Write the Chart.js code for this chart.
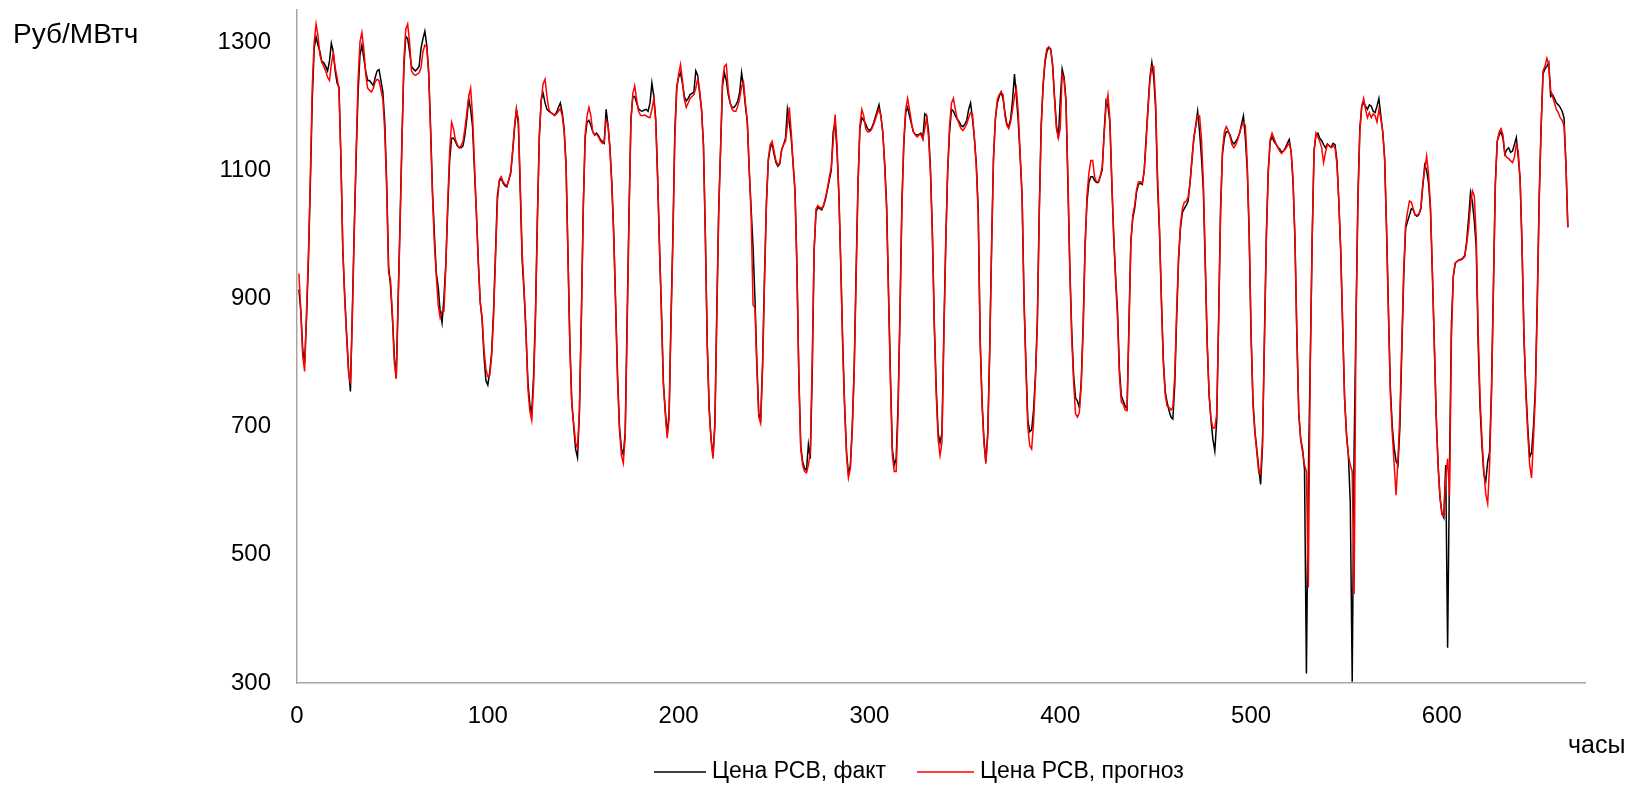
<!DOCTYPE html>
<html><head><meta charset="utf-8">
<script src="https://cdn.jsdelivr.net/npm/chart.js@4.4.1/dist/chart.umd.min.js"></script>
<style>html,body{margin:0;padding:0;background:#fff;} #wrap{width:1634px;height:786px;}</style>
</head><body><div id="wrap"><canvas id="c" width="1634" height="786"></canvas></div>
<script>
// Hourly market price, fact (black)
const FACT = [
914,880,820,800,870,960,1080,1210,1290,1308,1295,1285,1270,1268,1262,1255,1270,1298,1285,1255,1236,1230,1120,975,
905,845,790,755,880,1010,1120,1220,1280,1295,1275,1255,1240,1240,1236,1232,1245,1255,1257,1240,1222,1175,1080,950,
920,870,810,775,900,1020,1150,1260,1309,1305,1285,1262,1258,1255,1258,1262,1290,1305,1317,1295,1255,1168,1068,1000,
940,918,880,862,900,955,1040,1115,1150,1150,1145,1138,1135,1135,1138,1155,1180,1212,1195,1168,1100,1034,960,895,
867,810,772,765,785,815,880,968,1060,1082,1088,1080,1076,1074,1085,1095,1128,1165,1195,1172,1068,960,910,845,
770,735,720,780,880,1030,1155,1210,1220,1205,1195,1192,1190,1188,1186,1190,1198,1205,1190,1165,1110,970,830,740,
700,665,652,720,870,1040,1150,1175,1178,1170,1160,1155,1158,1154,1148,1145,1142,1195,1170,1135,1080,1001,890,780,
700,666,656,690,867,1034,1180,1215,1215,1205,1196,1193,1192,1194,1195,1192,1205,1236,1215,1180,1090,980,880,770,
725,688,720,870,1000,1160,1230,1245,1252,1235,1215,1208,1212,1218,1220,1222,1255,1248,1220,1195,1140,1000,830,730,
680,655,705,880,1040,1135,1232,1252,1240,1218,1205,1198,1198,1202,1208,1222,1252,1230,1200,1175,1100,1040,980,900,
800,720,712,800,934,1050,1115,1135,1141,1125,1112,1106,1110,1132,1140,1150,1195,1175,1150,1110,1068,950,780,670,
645,635,632,672,650,780,975,1035,1042,1040,1038,1045,1055,1070,1085,1100,1160,1175,1130,1060,950,830,733,660,
625,640,700,790,940,1080,1165,1182,1178,1172,1165,1162,1165,1172,1182,1192,1202,1185,1158,1110,1045,910,780,665,
640,650,733,880,1050,1140,1190,1198,1185,1172,1160,1156,1155,1156,1158,1150,1188,1185,1160,1100,1001,860,760,690,
675,690,850,990,1100,1160,1195,1192,1185,1180,1176,1170,1168,1172,1178,1195,1205,1180,1150,1110,1040,840,740,680,
645,690,820,980,1120,1180,1205,1215,1222,1212,1190,1172,1168,1180,1210,1250,1215,1175,1120,1060,900,800,710,692,
695,725,780,867,1040,1170,1230,1268,1285,1292,1289,1265,1215,1170,1150,1210,1258,1245,1210,1080,950,850,780,745,
740,730,770,860,985,1050,1081,1090,1090,1084,1081,1081,1090,1101,1160,1208,1200,1175,1080,1000,934,880,790,748,
740,732,728,860,990,1025,1040,1066,1078,1080,1078,1100,1150,1200,1245,1268,1245,1195,1075,1005,900,805,755,738,
725,715,712,765,870,960,1010,1034,1040,1045,1052,1080,1115,1150,1170,1192,1160,1120,1068,950,830,750,710,680,
662,710,870,1040,1125,1150,1160,1160,1155,1145,1141,1145,1150,1158,1172,1185,1150,1101,1000,840,740,693,665,635,
610,670,840,1000,1100,1145,1152,1145,1141,1136,1133,1128,1130,1135,1142,1148,1128,1081,990,840,720,680,665,633,
315,620,800,990,1130,1155,1158,1150,1146,1140,1135,1141,1138,1136,1142,1140,1115,1050,970,855,745,690,655,580,
302,666,870,1060,1165,1200,1205,1200,1195,1202,1200,1192,1190,1200,1212,1185,1160,1120,1010,880,760,700,666,646,
640,700,820,934,1010,1020,1030,1040,1038,1030,1028,1031,1040,1075,1108,1100,1080,1040,940,834,720,640,590,565,
558,640,355,640,860,935,955,958,960,961,963,967,990,1025,1065,1050,1020,980,830,730,670,625,615,645,
660,760,920,1080,1145,1155,1160,1150,1125,1132,1135,1128,1130,1140,1151,1121,1085,980,840,760,700,652,660,700,
760,900,1060,1168,1250,1258,1262,1268,1215,1218,1212,1205,1202,1198,1192,1182,1110,1011
];
// Hourly market price, forecast (red)
const FORECAST = [
939,880,810,786,880,970,1090,1230,1300,1328,1310,1280,1268,1262,1255,1245,1240,1265,1283,1260,1245,1225,1120,980,
900,840,785,767,870,1000,1130,1240,1300,1315,1290,1250,1228,1225,1222,1228,1238,1242,1240,1225,1210,1160,1070,940,
930,875,800,775,890,1010,1140,1270,1320,1328,1300,1255,1250,1248,1250,1252,1260,1285,1295,1292,1250,1160,1060,985,
935,890,870,880,880,950,1050,1130,1175,1165,1148,1140,1135,1138,1145,1165,1190,1215,1228,1185,1110,1035,955,895,
870,820,790,778,780,810,870,960,1050,1085,1090,1082,1078,1076,1085,1098,1130,1170,1195,1180,1080,970,915,850,
760,725,710,765,870,1020,1150,1210,1235,1242,1215,1195,1190,1188,1185,1188,1192,1196,1185,1160,1105,965,825,735,
705,675,666,725,860,1035,1155,1185,1198,1185,1160,1155,1156,1152,1146,1142,1145,1178,1172,1132,1075,995,885,770,
695,655,643,685,850,1025,1175,1220,1232,1210,1192,1186,1185,1186,1185,1183,1182,1195,1212,1175,1085,975,875,765,
720,682,712,860,990,1150,1225,1250,1265,1240,1210,1198,1205,1212,1215,1218,1228,1242,1225,1195,1140,995,825,725,
680,650,700,870,1030,1135,1240,1262,1265,1225,1205,1195,1192,1192,1200,1212,1230,1238,1205,1175,1100,1030,890,885,
790,715,705,790,925,1045,1118,1140,1145,1130,1115,1108,1112,1132,1140,1145,1170,1198,1160,1110,1065,945,775,665,
640,630,628,640,660,800,975,1040,1045,1042,1040,1046,1058,1072,1090,1105,1145,1187,1140,1060,950,820,728,655,
620,635,695,785,930,1075,1170,1195,1185,1165,1160,1160,1163,1170,1178,1188,1195,1185,1160,1105,1040,905,770,655,
630,630,720,870,1040,1145,1195,1212,1195,1175,1160,1155,1152,1155,1156,1148,1165,1182,1150,1095,995,855,750,680,
655,675,840,985,1100,1170,1205,1212,1195,1180,1172,1165,1162,1166,1172,1182,1190,1188,1150,1105,1030,835,735,675,
642,685,810,975,1115,1180,1210,1218,1222,1218,1185,1170,1165,1175,1195,1215,1228,1190,1125,1060,895,790,700,670,
665,705,775,860,1030,1165,1235,1272,1290,1292,1288,1262,1210,1165,1150,1165,1250,1240,1205,1090,945,840,770,720,
715,722,765,850,975,1060,1095,1115,1115,1090,1082,1082,1092,1105,1155,1200,1218,1180,1085,995,930,870,780,738,
735,726,725,850,985,1030,1045,1070,1082,1082,1080,1098,1145,1195,1240,1262,1262,1205,1090,1010,895,800,750,732,
730,726,730,780,880,965,1015,1040,1050,1052,1058,1080,1118,1150,1168,1185,1185,1150,1080,960,830,750,712,698,
698,720,860,1030,1130,1160,1168,1162,1152,1140,1135,1140,1148,1158,1168,1175,1170,1110,1005,850,735,690,660,628,
626,680,830,990,1095,1148,1158,1150,1142,1136,1130,1126,1130,1133,1138,1142,1130,1085,995,845,722,680,660,640,
630,449,790,990,1130,1158,1152,1145,1135,1112,1128,1140,1138,1135,1138,1135,1110,1050,975,860,745,685,655,640,
630,439,860,1050,1160,1200,1212,1195,1182,1190,1182,1188,1185,1175,1195,1180,1160,1115,1005,875,750,690,640,593,
650,720,830,945,1015,1035,1052,1050,1040,1030,1030,1032,1042,1080,1100,1122,1095,1045,945,830,715,640,590,563,
560,620,650,593,840,935,955,958,960,960,962,965,985,1010,1045,1068,1060,995,850,745,680,630,595,580,
640,750,910,1075,1145,1160,1165,1155,1125,1120,1118,1115,1112,1120,1140,1130,1085,985,845,750,690,640,620,680,
750,890,1050,1165,1255,1262,1275,1265,1225,1215,1205,1195,1190,1182,1178,1170,1110,1011
];
const FIRST_HOUR = 1;
const X_TICKS = [0, 100, 200, 300, 400, 500, 600];
const Y_TICKS = [300, 500, 700, 900, 1100, 1300];
const SERIES_NAMES = ['Цена РСВ, факт', 'Цена РСВ, прогноз'];
const SERIES_COLORS = ['#000000', '#ff0000'];
const Y_TITLE = 'Руб/МВтч';
const X_TITLE = 'часы';

const FONT = "'Liberation Sans', Arial, sans-serif";
const toPoints = arr => arr.map((v, i) => ({ x: FIRST_HOUR + i, y: v }));

const annot = {
  id: 'annot',
  afterDraw(chart) {
    const ctx = chart.ctx;
    ctx.save();
    ctx.fillStyle = '#000';
    ctx.textBaseline = 'middle';
    ctx.textAlign = 'left';
    ctx.font = '28px ' + FONT;
    ctx.fillText(Y_TITLE, 13, 35);
    ctx.font = '25px ' + FONT;
    ctx.fillText(X_TITLE, 1568, 746);
    ctx.font = '23px ' + FONT;
    const lines = [[654, 706, 712], [917, 974, 980]];
    SERIES_NAMES.forEach((name, i) => {
      const [x0, x1, tx] = lines[i];
      ctx.strokeStyle = SERIES_COLORS[i];
      ctx.lineWidth = 1.5;
      ctx.beginPath();
      ctx.moveTo(x0, 772);
      ctx.lineTo(x1, 772);
      ctx.stroke();
      ctx.fillStyle = '#000';
      ctx.fillText(name, tx, 772);
    });
    ctx.restore();
  }
};

function noPad(s) { s.paddingTop = 0; s.paddingBottom = 0; s.paddingLeft = 0; s.paddingRight = 0; }

new Chart(document.getElementById('c'), {
  type: 'line',
  data: {
    datasets: [
      { label: SERIES_NAMES[0], data: toPoints(FACT), borderColor: SERIES_COLORS[0], borderWidth: 1.5,
        pointRadius: 0, tension: 0, fill: false, order: 1 },
      { label: SERIES_NAMES[1], data: toPoints(FORECAST), borderColor: SERIES_COLORS[1], borderWidth: 1.5,
        pointRadius: 0, tension: 0, fill: false, order: 0 }
    ]
  },
  options: {
    responsive: false,
    animation: false,
    devicePixelRatio: 1,
    layout: { padding: { left: 0, right: 49, top: 10, bottom: 0 } },
    plugins: { legend: { display: false }, tooltip: { enabled: false } },
    scales: {
      x: {
        type: 'linear', min: 0, max: 675,
        afterBuildTicks: s => { s.ticks = X_TICKS.map(v => ({ value: v })); },
        afterFit: s => { s.height = 103; noPad(s); },
        grid: { display: false, drawTicks: false },
        border: { display: true, color: '#a6a6a6', width: 1.5 },
        ticks: { font: { size: 24, family: FONT }, color: '#000', padding: 19, maxRotation: 0, autoSkip: false,
                 callback: v => String(v) }
      },
      y: {
        type: 'linear', min: 300, max: 1350,
        afterBuildTicks: s => { s.ticks = Y_TICKS.map(v => ({ value: v })); },
        afterFit: s => { s.width = 297; noPad(s); },
        grid: { display: false, drawTicks: false },
        border: { display: true, color: '#a6a6a6', width: 1.5 },
        ticks: { font: { size: 24, family: FONT }, color: '#000', padding: 26, autoSkip: false,
                 callback: v => String(v) }
      }
    }
  },
  plugins: [annot]
});
</script>
</body></html>
